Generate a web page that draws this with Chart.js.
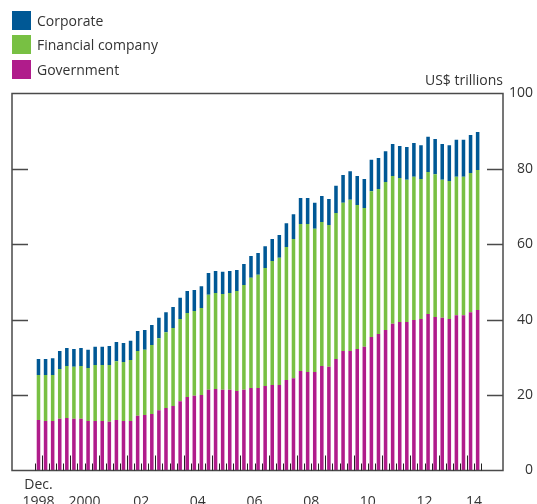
<!DOCTYPE html>
<html>
<head>
<meta charset="utf-8">
<script src="https://cdn.jsdelivr.net/npm/chart.js@4.4.1/dist/chart.umd.min.js"></script>
<style>
  html, body { margin: 0; padding: 0; background: #fff; overflow: hidden; }
  #wrap { position: relative; width: 537px; height: 504px; overflow: hidden; }
  #box { position: absolute; left: 0; top: 0; width: 537px; height: 516px; }
  .key { position: absolute; left: 12px; height: 19px; line-height: 19px;
         font: 14px "Open Sans"; color: #333; white-space: nowrap; }
  .key span { display: inline-block; width: 19px; height: 19px; margin-right: 6px; vertical-align: top; }
  #unit { position: absolute; right: 34px; top: 70px; line-height: 19px;
          font: 14px "Open Sans"; color: #333; }
</style>
</head>
<body>
<div id="wrap">
  <div id="box"><canvas id="debtChart"></canvas></div>
  <div class="key" style="top:11px"><span style="background:#005895"></span>Corporate</div>
  <div class="key" style="top:35px"><span style="background:#78c043"></span>Financial company</div>
  <div class="key" style="top:60px"><span style="background:#b01c8b"></span>Government</div>
  <div id="unit">US$ trillions</div>
</div>
<script>
// quarterly, Dec 1998 to Q2 2014
const quarters = [
  '1998Q4',
  '1999Q1','1999Q2','1999Q3','1999Q4', '2000Q1','2000Q2','2000Q3','2000Q4',
  '2001Q1','2001Q2','2001Q3','2001Q4', '2002Q1','2002Q2','2002Q3','2002Q4',
  '2003Q1','2003Q2','2003Q3','2003Q4', '2004Q1','2004Q2','2004Q3','2004Q4',
  '2005Q1','2005Q2','2005Q3','2005Q4', '2006Q1','2006Q2','2006Q3','2006Q4',
  '2007Q1','2007Q2','2007Q3','2007Q4', '2008Q1','2008Q2','2008Q3','2008Q4',
  '2009Q1','2009Q2','2009Q3','2009Q4', '2010Q1','2010Q2','2010Q3','2010Q4',
  '2011Q1','2011Q2','2011Q3','2011Q4', '2012Q1','2012Q2','2012Q3','2012Q4',
  '2013Q1','2013Q2','2013Q3','2013Q4', '2014Q1','2014Q2'
];

const government = [
  13.4, 13.1, 13.1, 13.7, 13.9, 13.7, 13.7, 13.1, 13.1, 13.1, 12.9, 13.4, 13.1, 13.1, 14.5, 14.7,
  15.0, 16.0, 16.6, 17.1, 18.4, 19.5, 19.8, 20.0, 21.4, 21.6, 21.4, 21.4, 21.1, 21.4, 21.9, 21.9,
  22.4, 22.7, 22.7, 24.0, 24.5, 26.4, 26.1, 26.1, 27.7, 27.5, 29.6, 31.7, 31.7, 32.2, 32.8, 35.4,
  36.2, 37.3, 38.9, 39.4, 39.4, 39.9, 40.2, 41.5, 40.7, 40.5, 40.2, 41.2, 41.2, 42.0, 42.6
];
const financial = [
  11.9, 12.2, 12.2, 13.2, 13.8, 13.8, 14.0, 14.1, 14.9, 14.9, 15.1, 15.6, 15.7, 16.2, 17.2, 17.3,
  18.3, 19.1, 20.1, 20.7, 21.8, 22.3, 22.5, 23.1, 25.2, 25.5, 25.4, 25.7, 26.5, 27.8, 29.2, 30.0,
  31.3, 32.9, 33.7, 35.3, 36.9, 39.0, 39.3, 38.0, 38.2, 37.6, 38.7, 39.3, 40.1, 38.2, 36.8, 38.7,
  38.5, 39.2, 39.2, 38.2, 37.7, 38.0, 37.1, 37.7, 37.9, 36.6, 36.6, 36.7, 36.7, 36.9, 37.1
];
const corporate = [
  4.3, 4.3, 4.5, 4.8, 4.8, 4.7, 4.8, 4.8, 4.8, 4.8, 5.0, 5.1, 5.0, 5.1, 5.3, 5.3,
  5.3, 5.4, 5.3, 5.6, 5.6, 5.8, 5.6, 5.8, 5.8, 5.8, 5.9, 5.8, 5.6, 5.6, 5.8, 5.8,
  5.8, 5.8, 6.1, 6.3, 6.6, 6.9, 6.9, 6.9, 6.9, 6.9, 7.2, 7.4, 7.6, 7.7, 7.7, 8.3,
  8.2, 8.2, 8.5, 8.5, 8.7, 9.0, 9.0, 9.3, 9.3, 9.5, 9.5, 9.8, 9.8, 10.1, 10.1
];

const tickYears = [1998, 2000, 2002, 2004, 2006, 2008, 2010, 2012, 2014];
const tickLabels = ['Dec.\n1998', '2000', '02', '04', '06', '08', '10', '12', '14'];
const yTicks = [0, 20, 40, 60, 80, 100];

const textColor = '#333';
const fontFamily = '"Open Sans", sans-serif';

// a year label sits in the middle of that year's bars
const labelPos = tickYears.map(yr => {
  const idx = [];
  quarters.forEach((q, i) => { if (parseInt(q.slice(0, 4)) === yr) idx.push(i); });
  return (idx[0] + idx[idx.length - 1]) / 2;
});

function toPoints(arr) {
  return arr.map((v, i) => ({ x: i, y: v }));
}

const frameTicks = {
  id: 'frameTicks',
  afterDatasetsDraw(chart) {
    const { ctx, chartArea: a, scales: { x, y } } = chart;
    ctx.save();
    ctx.strokeStyle = '#4a4a4a';
    ctx.lineWidth = 1.5;
    ctx.strokeRect(a.left, a.top, a.right - a.left, a.bottom - a.top);

    ctx.beginPath();
    yTicks.slice(1, -1).forEach(v => {
      const py = Math.round(y.getPixelForValue(v)) + 0.5;
      ctx.moveTo(a.left, py); ctx.lineTo(a.left + 16, py);
      ctx.moveTo(a.right - 16, py); ctx.lineTo(a.right, py);
    });
    ctx.stroke();

    // quarter ticks, taller at year ends
    ctx.strokeStyle = '#222';
    ctx.lineWidth = 1;
    ctx.beginPath();
    for (let i = -1; i < quarters.length; i++) {
      const px = Math.round(x.getPixelForValue(i + 0.5)) + 0.5;
      const tall = i >= 0 && quarters[i].endsWith('Q4');
      ctx.moveTo(px, a.bottom);
      ctx.lineTo(px, a.bottom - (tall ? 15 : 7));
    }
    ctx.stroke();
    ctx.restore();
  }
};

const myChart = new Chart('debtChart', {
  type: 'bar',
  data: {
    datasets: [
      { label: 'Government', data: toPoints(government), backgroundColor: '#b01c8b' },
      { label: 'Financial company', data: toPoints(financial), backgroundColor: '#78c043' },
      { label: 'Corporate', data: toPoints(corporate), backgroundColor: '#005895' }
    ]
  },
  options: {
    responsive: true,
    maintainAspectRatio: false,
    animation: false,
    categoryPercentage: 0.5,
    barPercentage: 1,
    borderWidth: 0,
    layout: { padding: { top: 93.5, left: 12, right: 4, bottom: 5.5 } },
    plugins: {
      legend: { display: false },
      tooltip: { enabled: false }
    },
    scales: {
      x: {
        type: 'linear',
        stacked: true,
        bounds: 'data',
        offset: false,
        min: -3.74,
        max: 65.58,
        grid: { display: false, drawTicks: false, offset: false },
        border: { display: false },
        afterBuildTicks: scale => { scale.ticks = labelPos.map(v => ({ value: v })); },
        afterFit: scale => { scale.height = 40; },
        ticks: {
          autoSkip: false,
          maxRotation: 0,
          padding: 6,
          color: textColor,
          font: { family: fontFamily, size: 14 },
          callback: (v, i) => {
            const parts = tickLabels[i].split('\n');
            return parts.length > 1 ? parts : ['', parts[0]];
          }
        }
      },
      y: {
        position: 'right',
        stacked: true,
        min: 0,
        max: 100,
        grid: { display: false, drawTicks: false },
        border: { display: false },
        afterBuildTicks: scale => { scale.ticks = yTicks.map(v => ({ value: v })); },
        afterFit: scale => { scale.width = 30; },
        ticks: {
          padding: 6,
          crossAlign: 'far',
          color: textColor,
          font: { family: fontFamily, size: 14 }
        }
      }
    }
  },
  plugins: [frameTicks]
});
</script>
</body>
</html>
